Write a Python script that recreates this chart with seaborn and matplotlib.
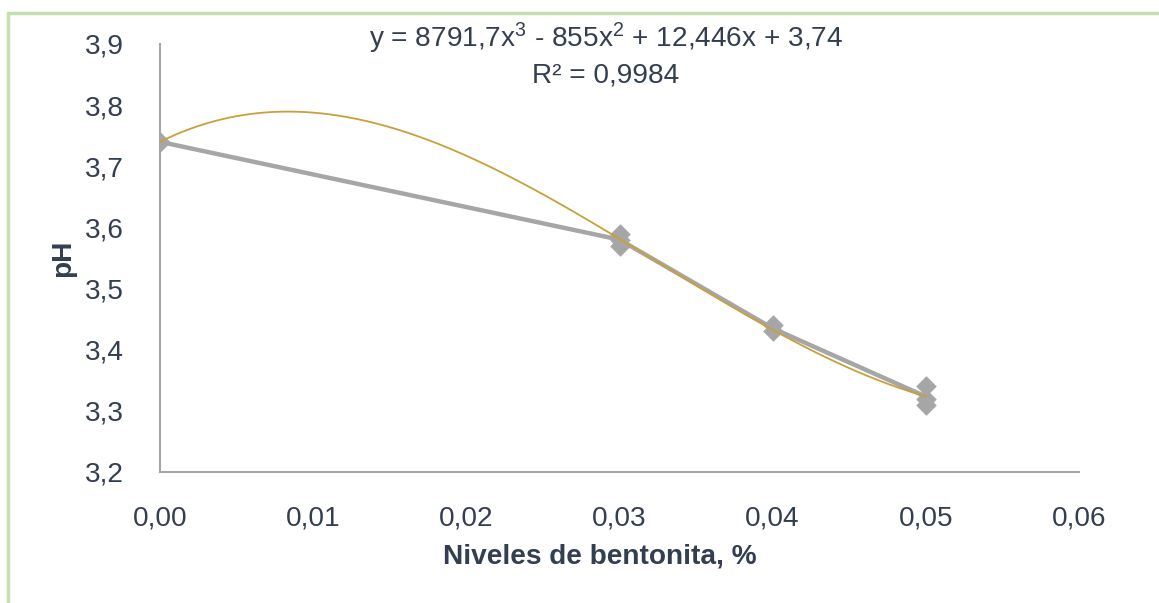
import numpy as np
import pandas as pd
import matplotlib
matplotlib.use("Agg")
import matplotlib.pyplot as plt
import seaborn as sns
from matplotlib.lines import Line2D

# ---- data ----
bentonita = [0.00, 0.03, 0.03, 0.03, 0.04, 0.04, 0.05, 0.05, 0.05]
ph_values = [3.74, 3.57, 3.58, 3.59, 3.43, 3.44, 3.31, 3.32, 3.34]
# polynomial trendline coefficients shown on the chart (x^3, x^2, x, 1)
trend_coefs = [8791.7, -855.0, 12.446, 3.74]
x_ticks = [0.00, 0.01, 0.02, 0.03, 0.04, 0.05, 0.06]
x_ticklabels = ["0,00", "0,01", "0,02", "0,03", "0,04", "0,05", "0,06"]
y_ticks = [3.2, 3.3, 3.4, 3.5, 3.6, 3.7, 3.8, 3.9]
y_ticklabels = ["3,2", "3,3", "3,4", "3,5", "3,6", "3,7", "3,8", "3,9"]
equation_text = "y = 8791,7x$^{3}$ - 855x$^{2}$ + 12,446x + 3,74"
r2_text = "R² = 0,9984"

sns.set_theme(style="white")
plt.rcParams["font.family"] = ["Liberation Sans", "DejaVu Sans"]
plt.rcParams["mathtext.fontset"] = "custom"
plt.rcParams["mathtext.rm"] = "Liberation Sans"
plt.rcParams["mathtext.it"] = "Liberation Sans"

TEXT = "#333f50"
GRAY = "#a6a6a6"
GOLD = "#c9a03a"
FS = 20.2

df = pd.DataFrame({"x": bentonita, "pH": ph_values})
xs = np.linspace(0.0, 0.05, 300)
trend_df = pd.DataFrame({"x": xs, "pH": np.polyval(trend_coefs, xs)})

fig = plt.figure(figsize=(11.59, 6.03), dpi=100)
ax = fig.add_axes([160 / 1159, 1 - 472 / 603, (1079 - 160) / 1159, (472 - 44) / 603])

sns.lineplot(data=df, x="x", y="pH", estimator="mean", errorbar=None,
             color=GRAY, linewidth=3.2, ax=ax, zorder=2)
sns.scatterplot(data=df, x="x", y="pH", marker="D", s=110, color=GRAY,
                edgecolor=GRAY, linewidth=0, ax=ax, zorder=3)
sns.lineplot(data=trend_df, x="x", y="pH", color=GOLD, linewidth=1.3,
             ax=ax, zorder=4)

ax.set_xlim(0, 0.06)
ax.set_ylim(3.2, 3.9)
ax.set_xticks(x_ticks)
ax.set_xticklabels(x_ticklabels)
ax.set_yticks(y_ticks)
ax.set_yticklabels(y_ticklabels)
ax.tick_params(axis="both", length=0, labelsize=FS, colors=TEXT)
ax.tick_params(axis="y", pad=26)
ax.tick_params(axis="x", pad=24)

for side in ["top", "right"]:
    ax.spines[side].set_visible(False)
for side in ["left", "bottom"]:
    ax.spines[side].set_color(GRAY)
    ax.spines[side].set_linewidth(1.5)

ax.set_xlabel("")
ax.set_ylabel("")
fig.text(600 / 1159, 1 - 557 / 603, "Niveles de bentonita, %", ha="center",
         va="center", fontsize=FS, fontweight="bold", color=TEXT)
fig.text(63 / 1159, 1 - 258 / 603, "pH", ha="center", va="center",
         rotation=90, fontsize=FS, fontweight="bold", color=TEXT)

fig.text(606 / 1159, 1 - 38 / 603, equation_text, ha="center", va="center",
         fontsize=FS, color=TEXT)
fig.text(606 / 1159, 1 - 76 / 603, r2_text, ha="center", va="center",
         fontsize=FS, color=TEXT)

# light green frame (top and left edges visible)
frame_color = "#c3e0b0"
fig.add_artist(Line2D([8 / 1159, 1.0], [1 - 13 / 603, 1 - 13 / 603],
                      transform=fig.transFigure, color=frame_color, lw=2.5))
fig.add_artist(Line2D([8 / 1159, 8 / 1159], [0.0, 1 - 13 / 603],
                      transform=fig.transFigure, color=frame_color, lw=2.5))

fig.savefig("out.png", dpi=100)
